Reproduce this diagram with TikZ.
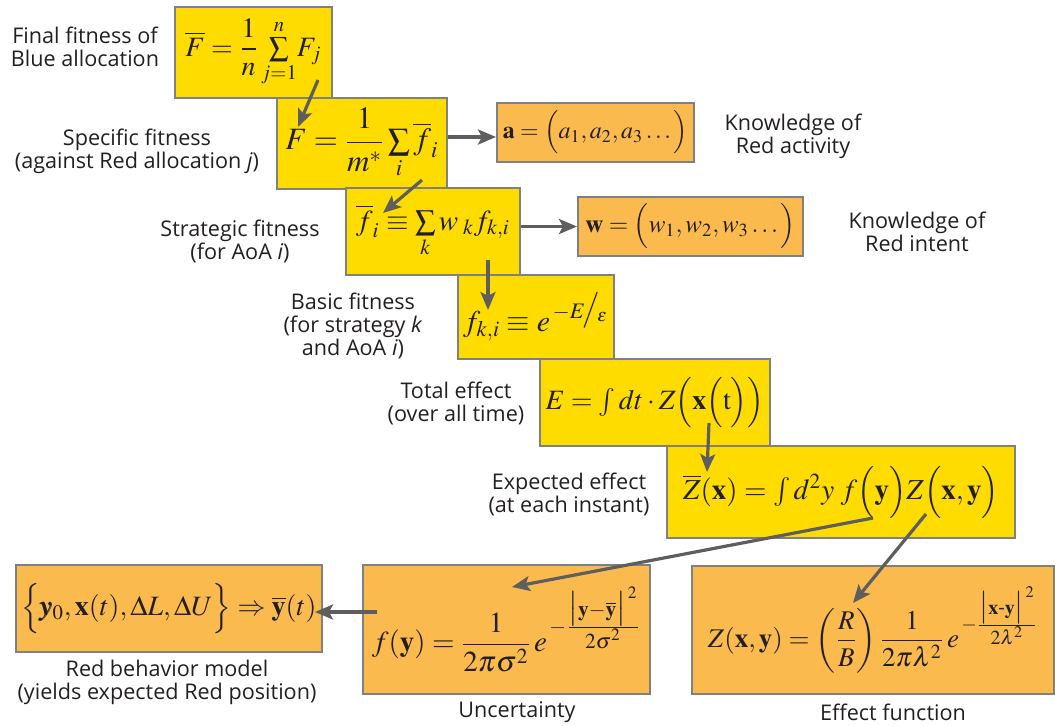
\documentclass[tikz,border=0pt]{standalone}
\usepackage{amsmath}
\usepackage{mathptmx}
\usepackage[no-math]{fontspec}
\setmainfont{Open Sans}
\usepackage{tikz}
\usetikzlibrary{positioning,arrows.meta,calc}
\definecolor{fityellow}{HTML}{FFDC00}
\definecolor{redorange}{HTML}{FBBA4E}
\definecolor{boxgray}{HTML}{808080}
\definecolor{arrgray}{HTML}{5E5E5E}
\definecolor{inkgray}{HTML}{231F20}

\begin{document}
\begin{tikzpicture}[
  x=0.5pt, y=-0.5pt,
  font=\fontsize{10.8}{11.6}\selectfont, text=inkgray,
  ybox/.style={draw=boxgray, line width=1pt, fill=fityellow, inner sep=2pt},
  obox/.style={ybox, fill=redorange},
  msize/.style={font=\fontsize{#1}{#1}\selectfont},
  arr/.style={-{Stealth[length=9pt,width=7.5pt,inset=2pt]}, line width=1.6pt, color=arrgray},
  lbl/.style={align=center},
]
  \useasboundingbox (0,0) rectangle (1055,725);

  % fitness chain
  \node[ybox, msize=14, minimum width=78.5pt, minimum height=45.5pt] (fbar) at (253.5,52.5)
    {$\displaystyle\overline{F}=\frac{1}{n}\,{\textstyle\sum\limits_{j=1}^{n}}F_{j}$};
  \node[ybox, msize=15.5, minimum width=85pt, minimum height=45.5pt] (spec) at (362,143.5)
    {$\displaystyle F=\frac{1}{m^{*}}\,{\textstyle\sum\limits_{i}}\,\overline{f}_{i}$};
  \node[ybox, msize=14.5, minimum width=87pt, minimum height=43.5pt] (strat) at (433,231.5)
    {$\overline{f}_{i}\equiv\sum\limits_{k}w_{\;k}f_{k,i}$};
  \node[ybox, msize=15, minimum width=78pt, minimum height=42pt] (basic) at (536,317)
    {$f_{k,i}\equiv e^{\,-E\!\big/\!_{\varepsilon}}$};
  \node[ybox, msize=14, minimum width=115pt, minimum height=43.5pt] (total) at (655,402.5)
    {$E=\int dt\cdot Z\Big(\mathbf{x}\Big(\mathrm{t}\Big)\Big)$};
  \node[ybox, msize=14.5, minimum width=174pt, minimum height=46pt] (expect) at (841,492)
    {$\overline{Z}(\mathbf{x})=\int d^{2}y\;f\Big(\mathbf{y}\Big)Z\Big(\mathbf{x},\mathbf{y}\Big)$};

  % Red side
  \node[obox, msize=12, minimum width=98.5pt, minimum height=29.5pt] (act) at (595.5,132.5)
    {$\mathbf{a}=\Big(a_{1},a_{2},a_{3}\ldots\Big)$};
  \node[obox, msize=12.5, minimum width=112.5pt, minimum height=29.5pt] (intent) at (690.5,226.5)
    {$\mathbf{w}=\Big(w_{1},w_{2},w_{3}\ldots\Big)$};
  \node[obox, msize=14, minimum width=153pt, minimum height=43.5pt] (redbeh) at (169,608.5)
    {$\Big\{\pmb{y}_{0},\mathbf{x}(t),\Delta L,\Delta U\Big\}\Rightarrow\overline{\mathbf{y}}(t)$};
  \node[obox, msize=14.5, minimum width=143.5pt, minimum height=64.5pt] (uncert) at (506.5,629.5)
    {$\displaystyle f(\mathbf{y})=\frac{1}{2\pi\sigma^{2}}\,e^{\,-\frac{\scriptstyle\bigl|\mathbf{y}-\overline{\mathbf{y}}\bigr|^{\,2}}{\scriptstyle 2\sigma^{2}}}$};
  \node[obox, msize=13.5, minimum width=181pt, minimum height=64pt] (effect) at (873,630)
    {$\displaystyle Z(\mathbf{x},\mathbf{y})=\left(\frac{R}{B}\right)\frac{1}{2\pi\lambda^{2}}\,e^{\,-\frac{\scriptstyle\bigl|\mathbf{x}\text{-}\mathbf{y}\bigr|^{\,2}}{\scriptstyle 2\lambda^{2}}}$};

  % labels
  \node[lbl] (lfbar)   at (85,46.5)   {Final fitness of\\Blue allocation};
  \node[lbl] (lspec)   at (137,151.5) {Specific fitness\\(against Red allocation \textit{j})};
  \node[lbl] (lstrat)  at (240,241.5) {Strategic fitness\\(for AoA \textit{i})};
  \node[lbl] (lbasic)  at (353,326)   {Basic fitness\\(for strategy \textit{k}\\and AoA \textit{i})};
  \node[lbl] (ltotal)  at (456,403.5) {Total effect\\(over all time)};
  \node[lbl] (lexpect) at (569,494.5) {Expected effect\\(at each instant)};
  \node[lbl] (lact)    at (793,136.5) {Knowledge of\\Red activity};
  \node[lbl] (lintent) at (917,231.5) {Knowledge of\\Red intent};
  \node[lbl] (lred)    at (167,682)   {Red behavior model\\(yields expected Red position)};
  \node[lbl] (lunc)    at (517,712)   {Uncertainty};
  \node[lbl] (leff)    at (893,712)   {Effect function};

  % connectors
  \draw[arr] ([shift={(64.5,27.5)}]fbar.center) -- ([shift={(-64,-16.5)}]spec.center);
  \draw[arr] ([shift={(60,36.5)}]spec.center) -- ([shift={(-50,-18.5)}]strat.center);
  \draw[arr] ([shift={(55,28.5)}]strat.center) -- ([shift={(-48,-7)}]basic.center);
  \draw[arr] ([shift={(54,20.5)}]total.center) -- ([shift={(-134,-20)}]expect.center);
  \draw[arr] ([shift={(32,26)}]expect.center) -- ([shift={(5.5,-42.5)}]uncert.center);
  \draw[arr] ([shift={(85,22)}]expect.center) -- ([shift={(-20,-27)}]effect.center);
  \draw[arr] ([shift={(-129.5,-17.5)}]uncert.center) -- ([shift={(146,3.5)}]redbeh.center);
  \draw[arr] ([shift={(0,-6.5)}]spec.east) -- ([shift={(0,4.5)}]act.west);
  \draw[arr] (strat.east |- intent.west) -- (intent.west);
\end{tikzpicture}
\end{document}
